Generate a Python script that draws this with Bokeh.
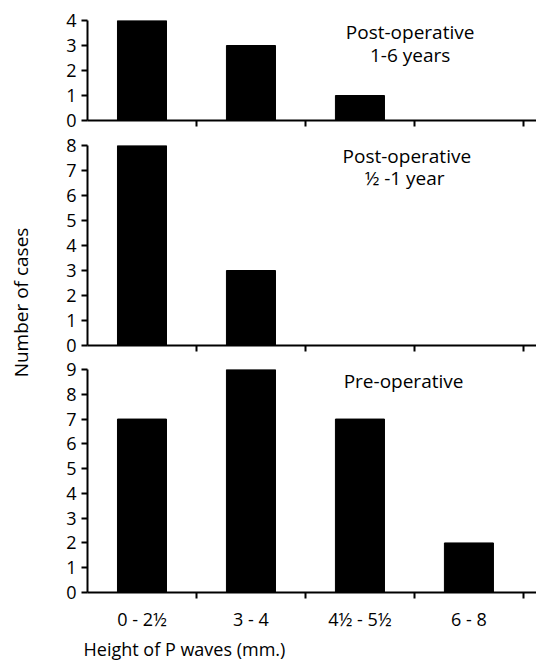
from bokeh.plotting import figure
from bokeh.layouts import column, row
from bokeh.models import Range1d, FixedTicker, Label, Title
from bokeh.embed import file_html
from bokeh.resources import INLINE

categories = ["0 - 2½", "3 - 4", "4½ - 5½", "6 - 8"]
post_1_6_years = [4, 3, 1, 0]
post_half_1_year = [8, 3, 0, 0]
pre_operative = [7, 9, 7, 2]
x_title = "Height of P waves (mm.)"
y_title = "Number of cases"

FONT = "Open Sans"
centers = [i + 0.5 for i in range(len(categories))]
bounds = [i + 1 for i in range(len(categories))]


def panel(values, ymax, height, top, bottom, show_labels):
    p = figure(width=496, height=height, output_backend="svg", toolbar_location=None,
               x_range=Range1d(0, 4.12), y_range=Range1d(0, ymax),
               min_border_left=47, min_border_right=0,
               min_border_top=top, min_border_bottom=bottom)
    p.vbar(x=centers, top=values, width=0.45, bottom=0,
           fill_color="black", line_color="black")
    p.grid.visible = False
    p.outline_line_color = None
    p.background_fill_color = "white"
    p.border_fill_color = "white"

    xa = p.xaxis[0]
    xa.axis_line_width = 2
    xa.axis_line_color = "black"
    xa.major_tick_out = 0
    xa.major_tick_in = 0
    xa.minor_tick_out = 6
    xa.minor_tick_in = 0
    xa.minor_tick_line_width = 2
    xa.minor_tick_line_color = "black"
    if show_labels:
        xa.ticker = FixedTicker(ticks=centers, minor_ticks=bounds)
        xa.major_label_overrides = {c: lab for c, lab in zip(centers, categories)}
        xa.major_label_text_font = FONT
        xa.major_label_text_font_size = "18px"
        xa.major_label_text_color = "black"
        xa.major_label_standoff = 8
    else:
        xa.ticker = FixedTicker(ticks=[], minor_ticks=bounds)
        xa.major_label_standoff = 0

    ya = p.yaxis[0]
    ya.ticker = FixedTicker(ticks=list(range(ymax + 1)))
    ya.axis_line_width = 2
    ya.axis_line_color = "black"
    ya.major_tick_out = 6
    ya.major_tick_in = 0
    ya.major_tick_line_width = 2
    ya.minor_tick_out = 0
    ya.minor_tick_in = 0
    ya.major_label_text_font = FONT
    ya.major_label_text_font_size = "18px"
    ya.major_label_text_color = "black"
    ya.major_label_standoff = 5
    return p


def note(p, x, y, text):
    p.add_layout(Label(x=x, y=y, text=text, text_align="center", text_baseline="middle",
                       text_font=FONT, text_font_size="19px", text_color="black"))


p1 = panel(post_1_6_years, 4, 132, 20, 12, False)
note(p1, 2.96, 3.56, "Post-operative")
note(p1, 2.96, 2.64, "1-6 years")

p2 = panel(post_half_1_year, 8, 225, 13, 12, False)
note(p2, 2.93, 7.6, "Post-operative")
note(p2, 2.91, 6.72, "½ -1 year")

p3 = panel(pre_operative, 9, 304, 12, 69, True)
note(p3, 2.9, 8.52, "Pre-operative")
p3.add_layout(Title(text=x_title, align="left", text_font=FONT, text_font_size="18px",
                    text_font_style="normal", text_color="black", offset=-4,
                    standoff=2), "below")

left = figure(width=40, height=661, output_backend="svg", toolbar_location=None,
              x_axis_location=None, y_axis_location=None,
              min_border_left=0, min_border_right=0, min_border_top=200, min_border_bottom=257)
left.grid.visible = False
left.outline_line_color = None
left.add_layout(Title(text=y_title, align="center", text_font=FONT, text_font_size="19px",
                      text_font_style="normal", text_color="black"), "left")

layout = row(left, column(p1, p2, p3))
open("out.html", "w").write(file_html(layout, INLINE))
